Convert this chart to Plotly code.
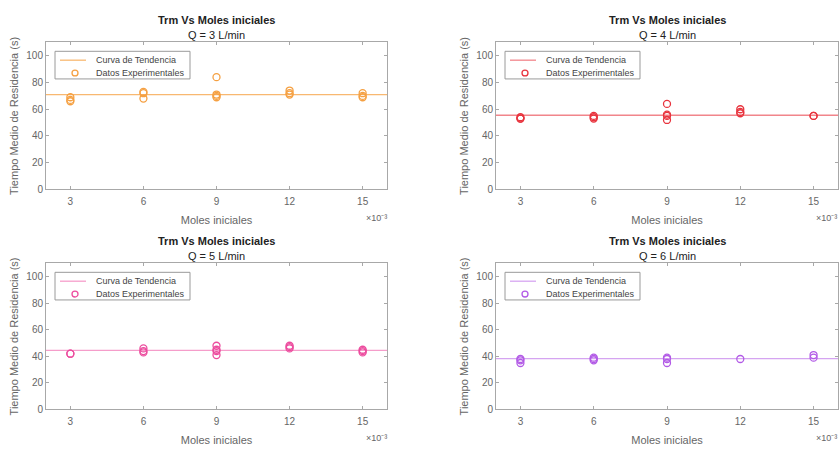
import plotly.graph_objects as go

W, H = 839, 450

# ---------------- data ----------------
X_TICKS = [3, 6, 9, 12, 15]          # ×10^-3
X_SCALE = 1e-3

Q3_x = [3, 3, 3, 6, 6, 6, 9, 9, 9, 9, 12, 12, 12, 15, 15, 15]
Q3_y = [69, 67, 66, 73, 72, 68, 84, 71, 70, 69, 74, 72, 71, 72, 70, 69]
Q3_trend = 71.0

Q4_x = [3, 3, 3, 6, 6, 6, 9, 9, 9, 9, 12, 12, 12, 15, 15]
Q4_y = [54, 53, 53, 55, 54, 53, 64, 56, 55, 52, 60, 58, 57, 55, 55]
Q4_trend = 55.5

Q5_x = [3, 3, 6, 6, 6, 9, 9, 9, 9, 12, 12, 12, 15, 15, 15]
Q5_y = [42, 42, 46, 44, 43, 48, 45, 44, 41, 48, 47, 46, 45, 44, 43]
Q5_trend = 44.5

Q6_x = [3, 3, 3, 6, 6, 6, 9, 9, 9, 12, 15, 15]
Q6_y = [38, 37, 35, 39, 38, 37, 39, 38, 35, 38, 41, 39]
Q6_trend = 38.3

SUBTITLES = ["Q = 3 L/min", "Q = 4 L/min", "Q = 5 L/min", "Q = 6 L/min"]
TITLE = "Trm Vs Moles iniciales"
XLABEL = "Moles iniciales"
YLABEL = "Tiempo Medio de Residencia (s)"
EXPONENT = "×10⁻³"
LEG_LINE = "Curva de Tendencia"
LEG_PTS = "Datos Experimentales"

COLORS = ["#F5A042", "#E8343E", "#EC4C9E", "#B25AE6"]
TREND_COLORS = ["rgba(245,160,66,0.75)", "rgba(232,52,62,0.6)",
                "rgba(236,76,158,0.55)", "rgba(178,90,230,0.55)"]

series = [(Q3_x, Q3_y, Q3_trend), (Q4_x, Q4_y, Q4_trend),
          (Q5_x, Q5_y, Q5_trend), (Q6_x, Q6_y, Q6_trend)]

# axes boxes in pixels: (left, top, right, bottom)
BOXES = [(46, 43, 387, 192), (496, 43, 838, 192),
         (46, 267, 387, 415), (496, 267, 838, 415)]

FONT = "Liberation Sans, Arial, sans-serif"
AXCOL = "#a8a8a8"
TXT = "#222222"
TICKTXT = "#666666"

def px(x):
    return x / W

def py(y):
    return 1 - y / H

fig = go.Figure()
layout = dict(width=W, height=H, margin=dict(l=0, r=0, t=0, b=0),
              paper_bgcolor="white", plot_bgcolor="white", showlegend=False,
              font=dict(family=FONT, color=TXT, size=10))
shapes, annotations = [], []

for i, ((xs, ys, tr), (l, t, r, b)) in enumerate(zip(series, BOXES)):
    n = "" if i == 0 else str(i + 1)
    xa, ya = "x" + n, "y" + n
    fig.add_trace(go.Scatter(
        x=[v * X_SCALE for v in xs], y=ys, mode="markers", xaxis=xa, yaxis=ya,
        marker=dict(symbol="circle-open", size=7, color=COLORS[i],
                    line=dict(width=1.3, color=COLORS[i])), name=LEG_PTS))
    layout["xaxis" + n] = dict(
        domain=[px(l), px(r)], anchor=ya, range=[0.002, 0.016],
        tickvals=[v * X_SCALE for v in X_TICKS], ticktext=[str(v) for v in X_TICKS],
        showline=True, linecolor=AXCOL, linewidth=1, mirror="ticks",
        ticks="inside", ticklen=3, tickcolor=AXCOL, showgrid=False, zeroline=False,
        ticklabelstandoff=3,
        tickfont=dict(size=10, color=TICKTXT, family=FONT),
        title=dict(text=XLABEL, font=dict(size=11, color=TICKTXT, family=FONT), standoff=9))
    layout["yaxis" + n] = dict(
        domain=[py(b), py(t)], anchor=xa, range=[0, 110],
        tickvals=[0, 20, 40, 60, 80, 100],
        showline=True, linecolor=AXCOL, linewidth=1, mirror="ticks",
        ticks="inside", ticklen=3, tickcolor=AXCOL, showgrid=False, zeroline=False,
        tickfont=dict(size=10, color=TICKTXT, family=FONT),
        title=dict(text=YLABEL, font=dict(size=11, color=TICKTXT, family=FONT), standoff=5))
    # trend line
    shapes.append(dict(type="line", xref=xa + " domain", yref=ya, x0=0, x1=1,
                       y0=tr, y1=tr, line=dict(color=TREND_COLORS[i], width=1.3),
                       layer="below"))
    cx = (l + r) / 2
    annotations.append(dict(text=TITLE, x=px(cx), y=py(t - 23),
                            xref="paper", yref="paper", showarrow=False,
                            xanchor="center", yanchor="middle",
                            font=dict(size=11, color=TXT, family=FONT, weight="bold")))
    annotations.append(dict(text=SUBTITLES[i], x=px(cx), y=py(t - 8),
                            xref="paper", yref="paper", showarrow=False,
                            xanchor="center", yanchor="middle",
                            font=dict(size=11, color=TXT, family=FONT)))
    annotations.append(dict(text=EXPONENT, x=px(min(r + 2, W)), y=py(b + 29),
                            xref="paper", yref="paper", showarrow=False,
                            xanchor="right", yanchor="middle",
                            font=dict(size=9, color=TICKTXT, family=FONT)))
    # legend box (drawn manually, MATLAB style)
    shapes.append(dict(type="rect", xref="paper", yref="paper",
                       x0=px(l + 9), x1=px(l + 144), y0=py(t + 37), y1=py(t + 9),
                       line=dict(color="#9a9a9a", width=1), fillcolor="white"))
    shapes.append(dict(type="line", xref="paper", yref="paper",
                       x0=px(l + 14), x1=px(l + 40), y0=py(t + 18), y1=py(t + 18),
                       line=dict(color=TREND_COLORS[i], width=1.3)))
    shapes.append(dict(type="circle", xref="paper", yref="paper",
                       x0=px(l + 26), x1=px(l + 32), y0=py(t + 34), y1=py(t + 28),
                       line=dict(color=COLORS[i], width=1.3)))
    annotations.append(dict(text=LEG_LINE, x=px(l + 48), y=py(t + 18),
                            xref="paper", yref="paper", showarrow=False,
                            xanchor="left", yanchor="middle",
                            font=dict(size=9, color="#444444", family=FONT)))
    annotations.append(dict(text=LEG_PTS, x=px(l + 48), y=py(t + 31),
                            xref="paper", yref="paper", showarrow=False,
                            xanchor="left", yanchor="middle",
                            font=dict(size=9, color="#444444", family=FONT)))

layout["shapes"] = shapes
layout["annotations"] = annotations
fig.update_layout(**layout)
fig.write_html("out.html")
